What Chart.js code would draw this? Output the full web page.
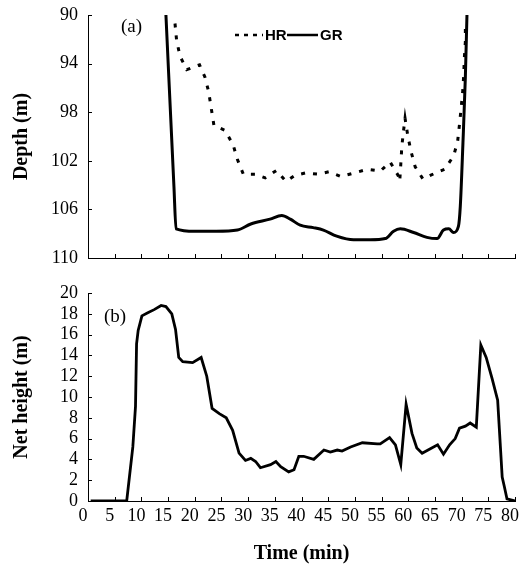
<!DOCTYPE html>
<html><head><meta charset="utf-8">
<script src="https://cdn.jsdelivr.net/npm/chart.js@4"></script>
<style>html,body{margin:0;padding:0;background:#fff;}canvas{display:block;}</style>
</head><body>
<canvas id="ca" width="532" height="266"></canvas>
<canvas id="cb" width="532" height="300"></canvas>
<script>
// ---- data ----
const timeTickStep = 5;
const depthTicks = [90, 94, 98, 102, 106, 110];
const heightTicks = [0, 2, 4, 6, 8, 10, 12, 14, 16, 18, 20];

const hrTime  = [16.3,16.6,17.25,18.5,20.9,21.9,22.6,23.1,23.6,25.7,27.2,28,29.1,31.3,33.2,35.3,37.1,38.8,40.7,43.2,45.1,47.4,49.9,52.3,54.75,56.6,58.1,58.4,58.6,58.8,59.1,59.4,59.9,60.5,61.3,62.75,65.1,66.8,68.5,69.25,69.6,69.9,70.2,70.4,70.5,70.7,70.7];
const hrDepth = [90.7,92.1,93.4,94.5,94.1,95.1,96.3,97.7,99.1,99.5,100.7,101.9,103.1,103.1,103.4,102.8,103.7,103.2,103.0,103.1,102.9,103.3,103.0,102.7,102.85,102.1,103.2,103.7,102.3,100.8,99.6,98.5,99.9,101.2,102.5,103.5,103.0,102.7,101.6,100.4,99.0,97.7,96.3,94.9,93.6,92.2,90.8];

const grTime  = [14.6,16.1,16.5,20,24,28,30.5,34.1,36.3,37.9,39.75,42.2,44.1,46.6,49.75,52.9,55.7,57.25,58.5,61,63.5,65.4,66.6,67.6,68.5,69.4,69.75,70.25,70.7,71];
const grDepth = [90,104.1,107.6,107.8,107.8,107.7,107.2,106.8,106.5,106.8,107.3,107.5,107.7,108.2,108.5,108.5,108.4,107.8,107.6,107.9,108.3,108.4,107.7,107.6,107.9,107.4,105.75,100.5,95.1,90];

const nhTime   = [0.5,7.25,8.4,8.9,9.1,9.4,10.1,11.2,12.4,13.7,14.6,15.7,16.4,17.0,17.75,19.6,21.2,22.25,23.25,24.6,25.9,27.1,28.3,29.5,30.5,31.4,32.3,34.2,35.2,36.1,37.6,38.6,39.5,40.4,42.3,44.2,45.4,46.7,47.6,49.2,51.4,54.2,54.75,56.5,57.6,58.6,59.6,60.7,61.6,62.6,64.4,65.5,66.6,67.75,68.8,69.6,70.7,71.6,72.75,73.6,74.6,75.7,76.75,77.6,78.0,78.5,80];
const nhHeight = [0,0,5.2,9.1,15.1,16.4,17.8,18.1,18.4,18.8,18.7,18.0,16.5,13.8,13.4,13.3,13.8,12.0,8.9,8.4,8.0,6.8,4.6,3.9,4.1,3.8,3.2,3.5,3.8,3.3,2.8,3.0,4.3,4.3,4.0,4.9,4.7,4.9,4.8,5.2,5.6,5.5,5.5,6.1,5.4,3.5,9.3,6.5,5.1,4.6,5.1,5.4,4.5,5.4,6.0,7.0,7.2,7.5,7.1,15.0,13.8,11.8,9.7,2.3,1.4,0.2,0];

const pts = (xs, ys) => xs.map((x, i) => ({x, y: ys[i]}));

// ---- styles ----
const SERIF = 'Liberation Serif';
const tickFont = {family: SERIF, size: 18};
const titleFont = {family: SERIF, size: 20, weight: 'bold'};
const AXIS_W = 88;
const RIGHT_PAD = 17;

const innerTicks = {
  id: 'innerTicks',
  afterDatasetsDraw(chart) {
    const {ctx, chartArea: a, scales: {x, y}} = chart;
    ctx.save();
    ctx.strokeStyle = '#000';
    ctx.lineWidth = 1;
    ctx.beginPath();
    x.ticks.forEach(t => { const px = Math.round(x.getPixelForValue(t.value)) + 0.5; ctx.moveTo(px, a.bottom); ctx.lineTo(px, a.bottom - 4); });
    y.ticks.forEach(t => { const py = Math.round(y.getPixelForValue(t.value)) + 0.5; ctx.moveTo(a.left, py); ctx.lineTo(a.left + 4, py); });
    ctx.stroke();
    ctx.restore();
  }
};

const panelLabel = (text, px, py) => ({
  id: 'panelLabel',
  afterDraw(chart) {
    const ctx = chart.ctx;
    ctx.save();
    ctx.fillStyle = '#000';
    ctx.font = '19px "' + SERIF + '"';
    ctx.textAlign = 'left';
    ctx.textBaseline = 'middle';
    ctx.fillText(text, px, py);
    ctx.restore();
  }
});

const legendA = {
  id: 'legendA',
  afterDraw(chart) {
    const ctx = chart.ctx;
    const ds = chart.data.datasets;
    const y = 35;
    const items = [{x0: 235, x1: 263, tx: 265, d: ds[0]}, {x0: 287, x1: 318, tx: 320, d: ds[1]}];
    ctx.save();
    items.forEach(it => {
      ctx.strokeStyle = '#000';
      ctx.lineWidth = 2.5;
      ctx.setLineDash(it.d.borderDash ? [4, 5] : []);
      ctx.beginPath(); ctx.moveTo(it.x0, y); ctx.lineTo(it.x1, y); ctx.stroke();
      ctx.setLineDash([]);
      ctx.fillStyle = '#000';
      ctx.font = 'bold 15px "Liberation Sans"';
      ctx.textAlign = 'left';
      ctx.textBaseline = 'middle';
      ctx.fillText(it.d.label, it.tx, y + 1);
    });
    ctx.restore();
  }
};

function axisBase() {
  return {
    grid: {drawOnChartArea: false, drawTicks: false},
    border: {display: true, color: '#000', width: 1}
  };
}
function noPad(s) { s.paddingTop = 0; s.paddingBottom = 0; s.paddingLeft = 0; s.paddingRight = 0; }

// ---- panel (a) ----
new Chart(document.getElementById('ca'), {
  type: 'line',
  data: {datasets: [
    {label: 'HR', data: pts(hrTime, hrDepth), borderColor: '#000', borderWidth: 3, borderDash: [4, 8], pointRadius: 0, tension: 0, fill: false},
    {label: 'GR', data: pts(grTime, grDepth), borderColor: '#000', borderWidth: 3, pointRadius: 0, cubicInterpolationMode: 'monotone', fill: false}
  ]},
  options: {
    responsive: false, animation: false,
    layout: {padding: {top: 15, right: RIGHT_PAD, left: 0, bottom: 0}},
    plugins: {legend: {display: false}, tooltip: {enabled: false}},
    scales: {
      x: Object.assign(axisBase(), {
        type: 'linear', min: 0, max: 80,
        ticks: {display: false, stepSize: timeTickStep},
        afterFit(s) { s.height = 8; noPad(s); }
      }),
      y: Object.assign(axisBase(), {
        type: 'linear', reverse: true, min: depthTicks[0], max: depthTicks[depthTicks.length - 1],
        afterBuildTicks(s) { s.ticks = depthTicks.map(v => ({value: v})); },
        ticks: {padding: 10, color: '#000', font: tickFont, autoSkip: false},
        title: {display: true, text: 'Depth (m)', color: '#000', font: titleFont, padding: {top: 10, bottom: 0}},
        afterFit(s) { s.width = AXIS_W; noPad(s); }
      })
    }
  },
  plugins: [innerTicks, panelLabel('(a)', 121, 27), legendA]
});

// ---- panel (b) ----
new Chart(document.getElementById('cb'), {
  type: 'line',
  data: {datasets: [
    {label: 'Net height', data: pts(nhTime, nhHeight), borderColor: '#000', borderWidth: 2.8, pointRadius: 0, tension: 0, fill: false}
  ]},
  options: {
    responsive: false, animation: false,
    layout: {padding: {top: 27, right: RIGHT_PAD, left: 0, bottom: 0}},
    plugins: {legend: {display: false}, tooltip: {enabled: false}},
    scales: {
      x: Object.assign(axisBase(), {
        type: 'linear', min: 0, max: 80,
        ticks: {stepSize: timeTickStep, autoSkip: false, maxRotation: 0, padding: 4, labelOffset: -5, color: '#000', font: tickFont},
        title: {display: true, text: 'Time (min)', color: '#000', font: titleFont, padding: {top: 0, bottom: 0}},
        afterFit(s) { s.height = 65; noPad(s); }
      }),
      y: Object.assign(axisBase(), {
        type: 'linear', min: heightTicks[0], max: heightTicks[heightTicks.length - 1],
        afterBuildTicks(s) { s.ticks = heightTicks.map(v => ({value: v})); },
        ticks: {padding: 10, color: '#000', font: tickFont, autoSkip: false},
        title: {display: true, text: 'Net height (m)', color: '#000', font: titleFont, padding: {top: 10, bottom: 0}},
        afterFit(s) { s.width = AXIS_W; noPad(s); }
      })
    }
  },
  plugins: [innerTicks, panelLabel('(b)', 104, 51)]
});
</script>
</body></html>
